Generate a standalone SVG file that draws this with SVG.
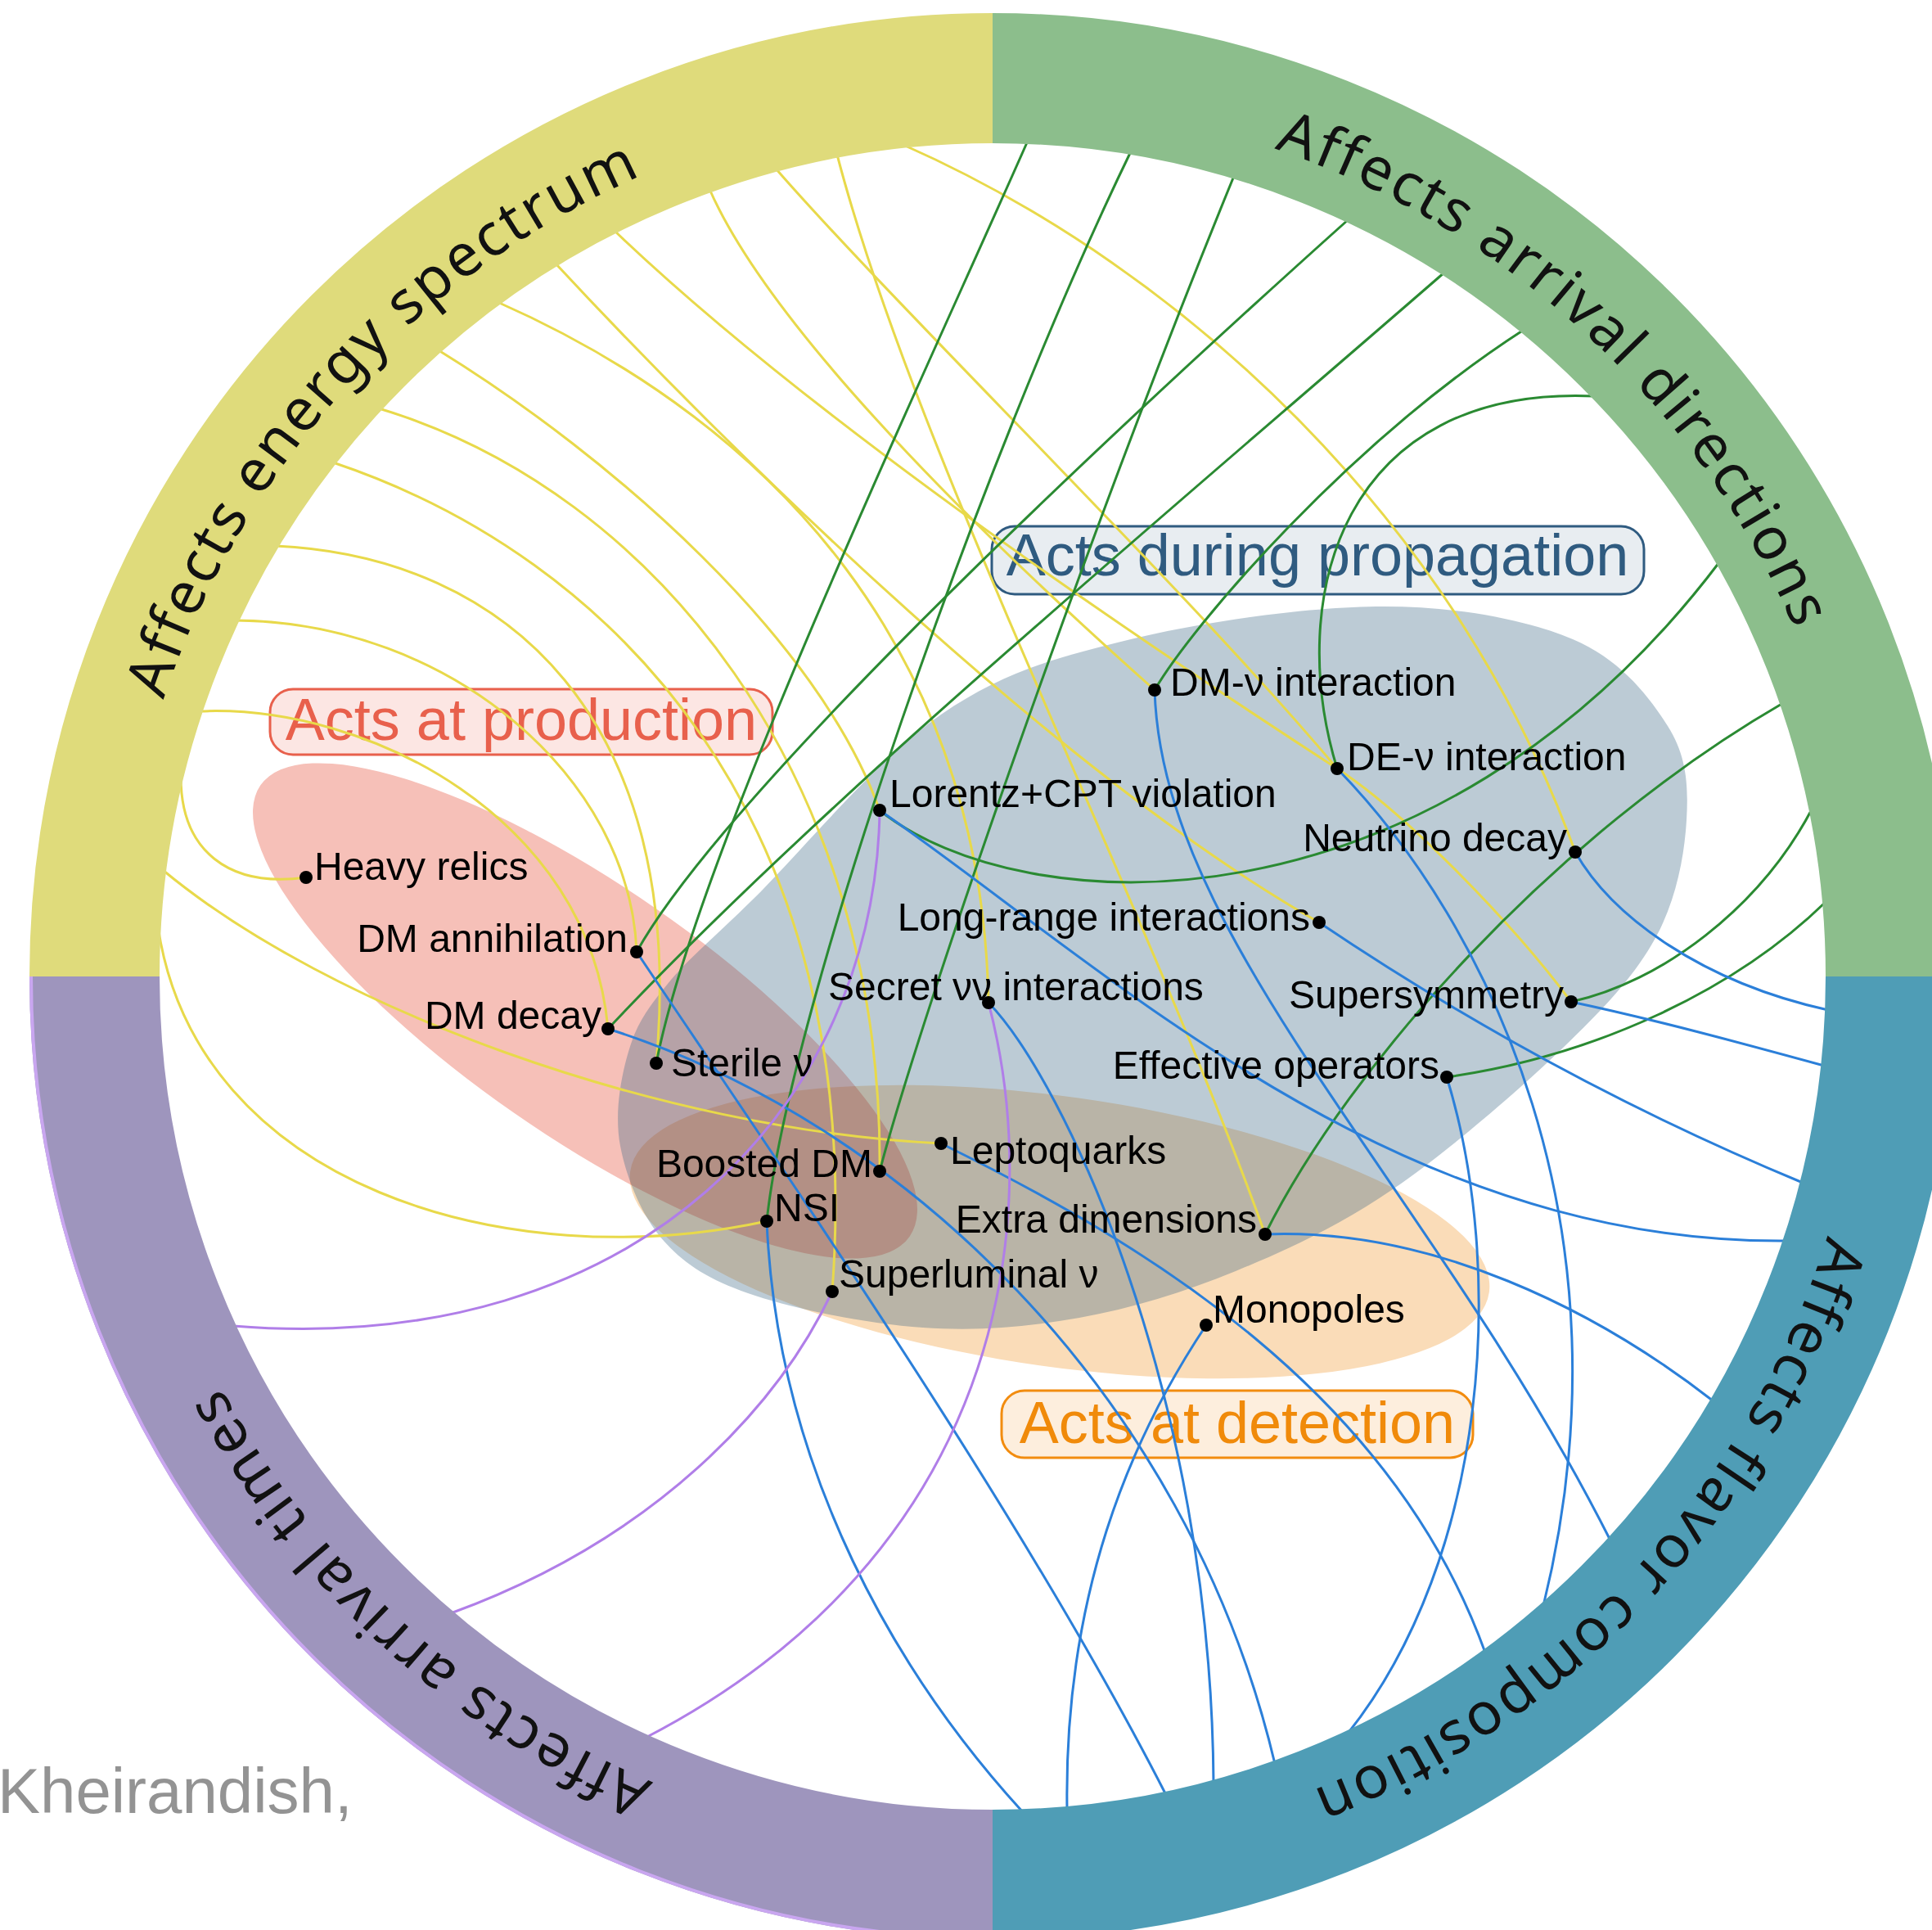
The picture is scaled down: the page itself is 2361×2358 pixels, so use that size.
<svg xmlns="http://www.w3.org/2000/svg" width="2361" height="2358" viewBox="0 0 2361 2358">
<style>
.blob{mix-blend-mode:multiply}
.c{fill:none;stroke-width:3}
.y{stroke:#E8D94A}
.g{stroke:#2A8A32}
.b{stroke:#2B7FD9}
.p{stroke:#B07EE8}
.ring{fill:none;stroke-width:159}
.rl{font-family:"Noto Sans","Liberation Sans",sans-serif;font-size:72px;letter-spacing:3px;fill:#111}
.nl{font-family:"Liberation Sans",Arial,sans-serif;font-size:48px;fill:#000}
.bl{font-family:"Liberation Sans",Arial,sans-serif;font-size:72px;text-anchor:middle}
.dot{fill:#000}
</style>
<defs>
<path id="lp" d="M2281,1193 A1068,1068 0 1 1 145,1193 A1068,1068 0 1 1 2281,1193"/>
</defs>
<rect width="2361" height="2358" fill="#fff"/>
<g id="blobs">
<ellipse id="blob-detection" class="blob" cx="1295" cy="1505" rx="530" ry="165" transform="rotate(8 1295 1505)" fill="#FADCB8"/>
<ellipse id="blob-production" class="blob" cx="715" cy="1235" rx="483" ry="152" transform="rotate(34.8 715 1235)" fill="#F6C0B8"/>
<path id="blob-propagation" fill="#3F6A86" fill-opacity="0.35" d="M1691,741 C1781,741 1864.2,756.7 1922,781 C1979.8,805.3 2014.8,850.2 2038,887 C2061.2,923.8 2063.5,958.8 2061,1002 C2058.5,1045.2 2048.7,1099.2 2023,1146 C1997.3,1192.8 1960.5,1231.8 1907,1283 C1853.5,1334.2 1768.2,1408 1702,1453 C1635.8,1498 1573.8,1526.8 1510,1553 C1446.2,1579.2 1382.7,1598.5 1319,1610 C1255.3,1621.5 1194,1626.5 1128,1622 C1062,1617.5 975.7,1600.5 923,1583 C870.3,1565.5 839.5,1547.5 812,1517 C784.5,1486.5 765.3,1438.7 758,1400 C750.7,1361.3 758.3,1318 768,1285 C777.7,1252 790.3,1233.3 816,1202 C841.7,1170.7 866.3,1151.8 922,1097 C977.7,1042.2 1073.3,925.7 1150,873 C1226.7,820.3 1291.8,803 1382,781 C1472.2,759 1601,741 1691,741 Z"/>
</g>
<g id="box-production">
<rect x="330" y="842" width="614" height="80" rx="28" fill="#FCE6E3" stroke="#E8604C" stroke-width="3"/>
<text class="bl" x="637" y="904" fill="#E8604C">Acts at production</text>
</g>
<g id="box-propagation">
<rect x="1212" y="643" width="797" height="83" rx="28" fill="#E8EDF1" stroke="#2F5B80" stroke-width="3"/>
<text class="bl" x="1610" y="703" fill="#2F5B80">Acts during propagation</text>
</g>
<g id="box-detection">
<rect x="1224" y="1699" width="576" height="82" rx="28" fill="#FDEEDD" stroke="#F28C0F" stroke-width="3"/>
<text class="bl" x="1512" y="1763" fill="#F08A0A">Acts at detection</text>
</g>
<g id="connectors">
<path class="c y" d="M1104,177 C1450,330 1780,640 1925,1041"/>
<path class="c y" d="M1023,189 C1120,560 1400,1100 1546,1508"/>
<path class="c y" d="M948,206 C1100,380 1450,720 1634,939"/>
<path class="c y" d="M867,231 C950,420 1250,700 1411,843"/>
<path class="c y" d="M751,282 C1000,520 1420,800 1634,939 C1720,995 1850,1130 1920,1224"/>
<path class="c y" d="M679,322 C900,560 1300,950 1612,1127"/>
<path class="c y" d="M608,369 C950,520 1200,800 1208,1225"/>
<path class="c y" d="M536,428 C750,560 1000,780 1075,990"/>
<path class="c y" d="M463,499 C800,600 1080,950 1075,1431"/>
<path class="c y" d="M407,565 C750,680 1060,1000 1017,1578"/>
<path class="c y" d="M337,667 C620,680 840,880 802,1299"/>
<path class="c y" d="M288,758 C550,760 770,950 778,1163"/>
<path class="c y" d="M244,869 C450,860 720,1000 743,1257"/>
<path class="c y" d="M374,1072 C280,1085 221,1040 221,949"/>
<path class="c y" d="M199,1063 C400,1230 800,1380 1150,1397"/>
<path class="c y" d="M193,1132 C240,1450 620,1560 937,1492"/>
<path class="c g" d="M802,1299 C850,1050 1120,480 1256,172"/>
<path class="c g" d="M937,1492 C965,1230 1200,560 1382,185"/>
<path class="c g" d="M1075,1431 C1125,1240 1330,650 1508,215"/>
<path class="c g" d="M778,1163 C880,980 1300,580 1648,268"/>
<path class="c g" d="M743,1257 C1000,983 1400,650 1765,333"/>
<path class="c g" d="M1411,843 C1460,760 1650,540 1862,403"/>
<path class="c g" d="M1949,484 C1640,470 1570,730 1634,939"/>
<path class="c g" d="M1075,990 C1250,1130 1750,1150 2101,687"/>
<path class="c g" d="M1546,1508 C1650,1300 1900,1020 2179,859"/>
<path class="c g" d="M1920,1224 C2030,1200 2150,1110 2214,989"/>
<path class="c g" d="M1768,1316 C1950,1290 2120,1210 2231,1102"/>
<path class="c b" d="M1925,1041 C1970,1120 2080,1200 2234,1234"/>
<path class="c b" d="M1920,1224 C2020,1245 2130,1275 2229,1302"/>
<path class="c b" d="M1612,1127 C1750,1220 1950,1340 2203,1445"/>
<path class="c b" d="M1075,990 C1350,1180 1700,1520 2183,1516"/>
<path class="c b" d="M1546,1508 C1750,1500 1950,1600 2094,1712"/>
<path class="c b" d="M1411,843 C1420,1150 1750,1450 1968,1882"/>
<path class="c b" d="M1634,939 C1820,1130 2000,1500 1886,1962"/>
<path class="c b" d="M1150,1397 C1400,1520 1700,1700 1815,2019"/>
<path class="c b" d="M1768,1316 C1840,1550 1820,1900 1647,2118"/>
<path class="c b" d="M743,1257 C1100,1370 1450,1700 1558,2155"/>
<path class="c b" d="M1208,1225 C1300,1320 1480,1700 1483,2179"/>
<path class="c b" d="M778,1163 C950,1420 1250,1850 1425,2193"/>
<path class="c b" d="M1474,1619 C1380,1760 1300,1950 1304,2211"/>
<path class="c b" d="M937,1492 C950,1800 1100,2050 1250,2214"/>
<path class="c p" d="M1075,990 C1070,1350 780,1660 285,1620"/>
<path class="c p" d="M1017,1578 C950,1720 800,1880 551,1971"/>
<path class="c p" d="M1208,1225 C1280,1500 1220,1900 789,2123"/>
</g>
<g id="ring">
<path class="ring" d="M115.5,1193 A1097.5,1097.5 0 0 1 1213,95.5" stroke="#DFDB7B"/>
<path class="ring" d="M1213,95.5 A1097.5,1097.5 0 0 1 2310.5,1193" stroke="#8CBE8C"/>
<path class="ring" d="M2310.5,1193 A1097.5,1097.5 0 0 1 1213,2290.5" stroke="#4F9DB6"/>
<path class="ring" d="M1213,2290.5 A1097.5,1097.5 0 0 1 115.5,1193" stroke="#9E95BD"/>
<path d="M1213,2368 A1175,1175 0 0 1 38,1193" fill="none" stroke="#C9A6F0" stroke-width="4"/>
<text class="rl"><textPath href="#lp" startOffset="4147" text-anchor="middle">Affects energy spectrum</textPath></text>
<text class="rl"><textPath href="#lp" startOffset="5831" text-anchor="middle">Affects arrival directions</textPath></text>
<text class="rl"><textPath href="#lp" startOffset="801" text-anchor="middle">Affects flavor composition</textPath></text>
<text class="rl"><textPath href="#lp" startOffset="2470" text-anchor="middle">Affects arrival times</textPath></text>
</g>
<g id="node-heavy-relics"><circle class="dot" cx="374" cy="1072" r="8"/><text class="nl" x="384" y="1075">Heavy relics</text></g>
<g id="node-dm-annihilation"><circle class="dot" cx="778" cy="1163" r="8"/><text class="nl" x="767" y="1163" text-anchor="end">DM annihilation</text></g>
<g id="node-dm-decay"><circle class="dot" cx="743" cy="1257" r="8"/><text class="nl" x="735" y="1257" text-anchor="end">DM decay</text></g>
<g id="node-sterile"><circle class="dot" cx="802" cy="1299" r="8"/><text class="nl" x="820" y="1315">Sterile ν</text></g>
<g id="node-boosted-dm"><circle class="dot" cx="1075" cy="1431" r="8"/><text class="nl" x="1066" y="1438" text-anchor="end">Boosted DM</text></g>
<g id="node-nsi"><circle class="dot" cx="937" cy="1492" r="8"/><text class="nl" x="946" y="1492">NSI</text></g>
<g id="node-superluminal"><circle class="dot" cx="1017" cy="1578" r="8"/><text class="nl" x="1025" y="1573">Superluminal ν</text></g>
<g id="node-leptoquarks"><circle class="dot" cx="1150" cy="1397" r="8"/><text class="nl" x="1161" y="1422">Leptoquarks</text></g>
<g id="node-extra-dimensions"><circle class="dot" cx="1546" cy="1508" r="8"/><text class="nl" x="1536" y="1506" text-anchor="end">Extra dimensions</text></g>
<g id="node-monopoles"><circle class="dot" cx="1474" cy="1619" r="8"/><text class="nl" x="1482" y="1616">Monopoles</text></g>
<g id="node-effective-operators"><circle class="dot" cx="1768" cy="1316" r="8"/><text class="nl" x="1759" y="1318" text-anchor="end">Effective operators</text></g>
<g id="node-supersymmetry"><circle class="dot" cx="1920" cy="1224" r="8"/><text class="nl" x="1911" y="1232" text-anchor="end">Supersymmetry</text></g>
<g id="node-long-range"><circle class="dot" cx="1612" cy="1127" r="8"/><text class="nl" x="1601" y="1137" text-anchor="end">Long-range interactions</text></g>
<g id="node-secret"><circle class="dot" cx="1208" cy="1225" r="8"/><text class="nl" x="1012" y="1222">Secret νν interactions</text></g>
<g id="node-lorentz"><circle class="dot" cx="1075" cy="990" r="8"/><text class="nl" x="1087" y="986">Lorentz+CPT violation</text></g>
<g id="node-dm-nu"><circle class="dot" cx="1411" cy="843" r="8"/><text class="nl" x="1430" y="850">DM-ν interaction</text></g>
<g id="node-de-nu"><circle class="dot" cx="1634" cy="939" r="8"/><text class="nl" x="1646" y="941">DE-ν interaction</text></g>
<g id="node-neutrino-decay"><circle class="dot" cx="1925" cy="1041" r="8"/><text class="nl" x="1915" y="1040" text-anchor="end">Neutrino decay</text></g>
<text x="-3" y="2215" font-family="Liberation Sans, Arial, sans-serif" font-size="78" fill="#939393">Kheirandish,</text>
</svg>
